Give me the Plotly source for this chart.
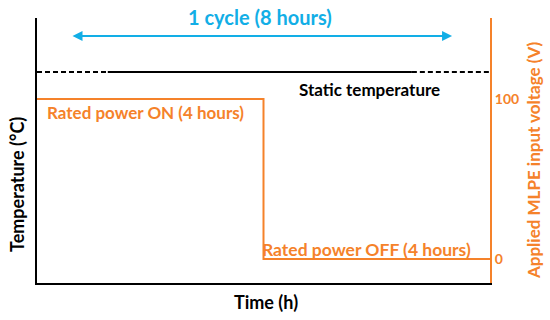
import plotly.graph_objects as go

# ---- data ----
time_steps = [0, 4, 4, 8]            # hours
voltage = [100, 100, 0, 0]           # V (applied MLPE input voltage)
static_temp_level = 0.796            # relative temperature level
dash_left_x = [0, 1.25]
solid_x = [1.25, 6.62]
dash_right_x = [6.62, 8]
cycle_span = [0.6, 7.33]             # hours, arrow extent
cycle_label = "1 cycle (8 hours)"
on_label = "Rated power ON (4 hours)"
off_label = "Rated power OFF (4 hours)"
static_label = "Static temperature"
v_ticks = [0, 100]

ORANGE = "#f5822a"
BLUE = "#12aee6"
FONT = "Lato"
W, H = 550, 320
L, R, T, B = 37, 60, 18, 37

fig = go.Figure()

# static temperature line
for xs, dash in [(dash_left_x, True), (solid_x, False), (dash_right_x, True)]:
    fig.add_trace(go.Scatter(
        x=xs, y=[static_temp_level] * len(xs), mode="lines",
        line=dict(color="black", width=2, dash="5px,3px" if dash else "solid"),
        showlegend=False, hoverinfo="skip"))

# voltage step
fig.add_trace(go.Scatter(
    x=time_steps, y=voltage, mode="lines", yaxis="y2",
    line=dict(color=ORANGE, width=2), showlegend=False, hoverinfo="skip"))

# cycle arrow
fig.add_annotation(x=cycle_span[1], y=0.932, ax=cycle_span[0], ay=0.932,
                   xref="x", yref="y", axref="x", ayref="y",
                   text="", showarrow=True, arrowhead=2, arrowside="end+start",
                   arrowsize=1, arrowwidth=2, arrowcolor=BLUE, standoff=0, startstandoff=0)
fig.add_annotation(x=3.94, y=1.004, xref="x", yref="paper", text=cycle_label,
                   showarrow=False, font=dict(family=FONT, size=20, color=BLUE, weight="bold"),
                   yanchor="middle")

fig.add_annotation(x=5.88, y=0.732, xref="x", yref="y", text=static_label, showarrow=False,
                   font=dict(family=FONT, size=17, color="black", weight="bold"))
fig.add_annotation(x=0.14, y=0.642, xref="x", yref="y", text=on_label, showarrow=False,
                   xanchor="left", font=dict(family=FONT, size=17, color=ORANGE, weight="bold"))
fig.add_annotation(x=5.82, y=0.128, xref="x", yref="y", text=off_label, showarrow=False,
                   font=dict(family=FONT, size=17.5, color=ORANGE, weight="bold"))

# axis titles positioned in pixels
pw, ph = W - L - R, H - T - B
for text, xpix, ypix, color, ang, size in [
        ("Temperature (°C)", 17, 185, "black", -90, 18),
        ("Applied MLPE input voltage (V)", 533, 160, ORANGE, -90, 17),
        ("Time (h)", 266, 302, "black", 0, 18)]:
    fig.add_annotation(x=(xpix - L) / pw, y=(H - B - ypix) / ph, xref="paper", yref="paper",
                       text=text, showarrow=False, textangle=ang,
                       xanchor="center", yanchor="middle",
                       font=dict(family=FONT, size=size, color=color, weight="bold"))

fig.update_layout(
    width=W, height=H,
    margin=dict(l=L, r=R, t=T, b=B, pad=0, autoexpand=False),
    paper_bgcolor="white", plot_bgcolor="white",
    xaxis=dict(range=[0, 8], showgrid=False, zeroline=False, showticklabels=False,
               ticks="", showline=True, linecolor="black", linewidth=2, automargin=False),
    yaxis=dict(range=[0, 1], showgrid=False, zeroline=False, showticklabels=False,
               ticks="", showline=True, linecolor="black", linewidth=2, automargin=False),
    yaxis2=dict(range=[-15, 150.6], overlaying="y", side="right", showgrid=False,
                zeroline=False, tickvals=v_ticks, ticktext=[str(v) for v in v_ticks],
                ticks="", ticklen=0, showline=True, linecolor=ORANGE, linewidth=2,
                automargin=False,
                tickfont=dict(family=FONT, size=14, color=ORANGE, weight="bold")),
)

fig.write_html("out.html", config={"displayModeBar": False},
               post_script="document.body.style.margin='0px';")
